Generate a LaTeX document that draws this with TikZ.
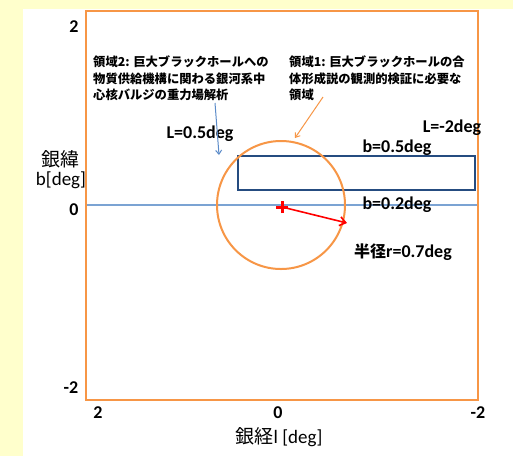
\documentclass[tikz,border=0pt]{standalone}
\usepackage{fontspec}
\setmainfont{Carlito}
\newfontfamily\jp{Noto Sans CJK JP}
\usetikzlibrary{arrows.meta}
\definecolor{bgy}{HTML}{FFFFCC}
\definecolor{frameor}{HTML}{F79646}
\definecolor{axblue}{HTML}{7BA3D3}
\definecolor{boxblue}{HTML}{254C80}
\definecolor{noteblue}{HTML}{5B8BC9}
\begin{document}
\begin{tikzpicture}[x=1pt,y=-1pt,
  lbl/.style={font=\fontsize{18}{20}\selectfont\bfseries, inner sep=0pt},
  tick/.style={font=\fontsize{18}{20}\selectfont\bfseries, inner sep=0pt},
  axt/.style={font=\fontsize{19}{22}\selectfont, inner sep=0pt},
  note/.style={font=\jp\bfseries\fontsize{12.3}{16.5}\selectfont, align=left, inner sep=0pt, anchor=north west},
  orline/.style={draw=frameor, line width=2pt},
]
\fill[bgy] (0,0) rectangle (513,456);
\fill[white] (23,9) rectangle (513,456);
\useasboundingbox (0,0) rectangle (513,456);

% frame
\draw[orline] (86,11) rectangle (478,400);
% b=0 axis
\draw[axblue, line width=1.5pt] (87,205) -- (477,205);
% region 2 box
\draw[boxblue, line width=2pt] (238,156) rectangle (475,190);
% region 1 circle
\draw[orline] (281,205) circle[radius=64];
% centre cross
\coordinate (ctr) at (282,207);
\draw[red, line width=3pt] ([xshift=-6pt]ctr) -- ([xshift=6pt]ctr)
  ([yshift=-6pt]ctr) -- ([yshift=6pt]ctr);
\coordinate (rim) at (347,223);
\draw[red, line width=1.6pt, -{Straight Barb[length=6pt,width=9pt]}] (ctr) -- (rim);

% tick labels
\node[tick] (ly2) at (74,27) {2};
\node[tick] (ly0) at (74,210) {0};
\node[tick] (lym) at (71,388) {-2};
\node[tick] (lx2) at (98,413) {2};
\node[tick] (lx0) at (278,413) {0};
\node[tick] (lxm) at (478,413) {-2};

% axis titles
\node[axt, font=\jp\fontsize{19}{22}\selectfont] (bt1) at (60,159) {銀緯};
\node[axt] (bt2) at (61,180) {b[deg]};
\node[axt] (lt) at (279,437) {{\jp 銀経}l [deg]};

% value labels
\node[lbl] (L05) at (200,134) {L=0.5deg};
\node[lbl] (Lm2) at (452,128) {L=-2deg};
\node[lbl] (b05) at (397,148) {b=0.5deg};
\node[lbl] (b02) at (397,205) {b=0.2deg};
\node[lbl] (rad) at (403,252) {{\jp\fontsize{16}{18}\selectfont 半径}r=0.7deg};

% annotations
\node[note] (n2) at (93,56) {領域2: 巨大ブラックホールへの\\物質供給機構に関わる銀河系中\\心核バルジの重力場解析};
\node[note] (n1) at (289,56) {領域1: 巨大ブラックホールの合\\体形成説の観測的検証に必要な\\領域};

\coordinate (a2s) at (215,103);
\coordinate (a2e) at (219,155);
\draw[noteblue, line width=1pt, -{Straight Barb[length=4pt,width=6pt]}] (a2s) -- (a2e);
\coordinate (a1s) at (323,97);
\coordinate (a1e) at (295,138);
\draw[frameor, line width=1pt, -{Straight Barb[length=4pt,width=6pt]}] (a1s) -- (a1e);
\end{tikzpicture}
\end{document}
